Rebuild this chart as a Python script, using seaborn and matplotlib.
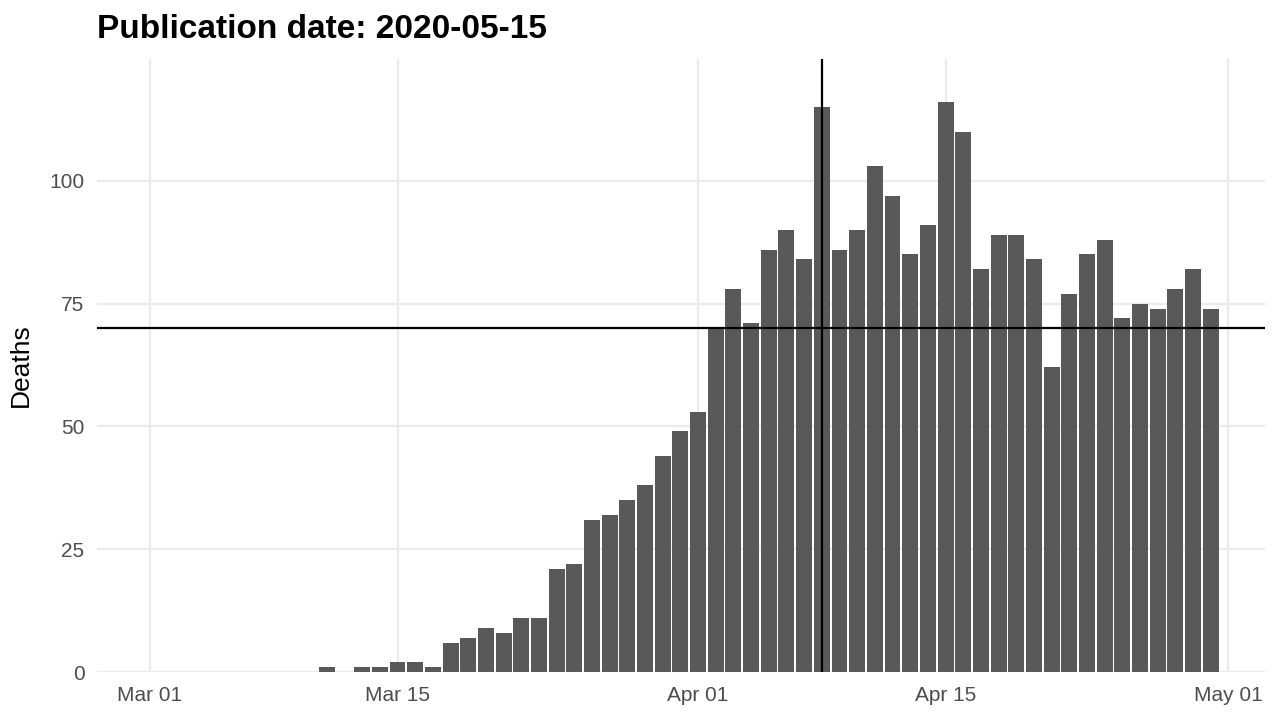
import matplotlib
matplotlib.use("Agg")
import matplotlib.pyplot as plt
import matplotlib.dates as mdates
import pandas as pd
import seaborn as sns

# daily deaths by date of death
dates = pd.date_range("2020-03-11", "2020-04-30", freq="D")
deaths = [1, 0, 1, 1, 2, 2, 1, 6, 7, 9, 8, 11, 11, 21, 22, 31, 32, 35, 38, 44, 49,
          53, 70, 78, 71, 86, 90, 84, 115, 86, 90, 103, 97, 85, 91, 116, 110, 82,
          89, 89, 84, 62, 77, 85, 88, 72, 75, 74, 78, 82, 74]

ref_date = "2020-04-08"
ref_deaths = 70
pub_date = "2020-05-15"

x_ticks = ["2020-03-01", "2020-03-15", "2020-04-01", "2020-04-15", "2020-05-01"]
y_ticks = [0, 25, 50, 75, 100]

sns.set_theme(style="white")
plt.rcParams["font.family"] = ["Liberation Sans", "DejaVu Sans"]

df = pd.DataFrame({"date": mdates.date2num(dates), "deaths": deaths})

fig = plt.figure(figsize=(12.8, 7.2), dpi=100)
ax = fig.add_axes([97 / 1280, 1 - 672 / 720, (1265 - 97) / 1280, (672 - 59) / 720])

sns.barplot(data=df, x="date", y="deaths", native_scale=True, color="#595959",
            saturation=1, width=0.9, linewidth=0, errorbar=None, ax=ax)

ax.axvline(mdates.date2num(pd.Timestamp(ref_date)), color="black", lw=1.6, zorder=5)
ax.axhline(ref_deaths, color="black", lw=1.6, zorder=5)

start = mdates.date2num(pd.Timestamp(x_ticks[0]))
ax.set_xlim(start - 3.0, start + 63.07)
ax.set_ylim(0, 124.8)

ax.set_xticks(mdates.date2num(pd.to_datetime(x_ticks)))
ax.xaxis.set_major_formatter(mdates.DateFormatter("%b %d"))
ax.set_yticks(y_ticks)

ax.grid(True, color="#EBEBEB", linewidth=1.6)
ax.set_axisbelow(True)
sns.despine(ax=ax, left=True, bottom=True)
ax.tick_params(length=0, labelsize=15, colors="#4D4D4D")
ax.tick_params(axis="x", pad=10)
ax.tick_params(axis="y", pad=9)

ax.set_xlabel("")
ax.set_ylabel("Deaths", fontsize=19, color="black", labelpad=12)

fig.text(97 / 1280, 1 - 38 / 720, f"Publication date: {pub_date}",
         fontsize=24, fontweight="bold", color="black", ha="left", va="baseline")

fig.savefig("out.png", dpi=100)
